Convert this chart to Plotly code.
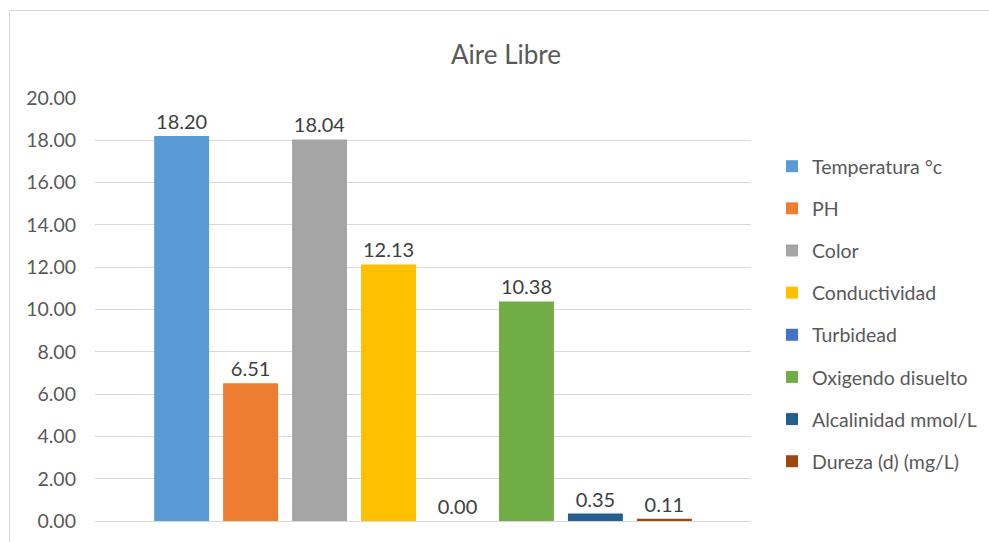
import plotly.graph_objects as go

categories = [""]
series_names = ["Temperatura °c", "PH", "Color", "Conductividad", "Turbidead",
                "Oxigendo disuelto", "Alcalinidad mmol/L", "Dureza (d) (mg/L)"]
series_values = [18.20, 6.51, 18.04, 12.13, 0.00, 10.38, 0.35, 0.11]
series_colors = ["#5B9BD5", "#ED7D31", "#A5A5A5", "#FFC000", "#4472C4",
                 "#70AD47", "#255E91", "#9E480E"]
y_ticks = [0, 2, 4, 6, 8, 10, 12, 14, 16, 18, 20]

FONT = "Lato"
W, H = 989, 542
L, R, T, B = 95, 238, 98, 21
pw, ph = W - L - R, H - T - B

fig = go.Figure()
for i, (name, val, col) in enumerate(zip(series_names, series_values, series_colors)):
    fig.add_trace(go.Bar(
        x=categories, y=[val], name=name, marker_color=col, marker_line_width=0,
        text=[f"{val:.2f}"], textposition="outside",
        textfont=dict(family=FONT, size=20, color="#404040"),
        cliponaxis=False, legendgroup=f"g{i}",
    ))

def px_x(p):
    return (p - L) / pw

def px_y(p):
    return (H - B - p) / ph

fig.update_layout(
    width=W, height=H,
    margin=dict(l=L, r=R, t=T, b=B, autoexpand=False),
    paper_bgcolor="white", plot_bgcolor="white",
    barmode="group", bargap=0.159, bargroupgap=0.203,
    font=dict(family=FONT, color="#595959"),
    title=dict(text="Aire Libre", x=506 / W, xref="container", xanchor="center",
               y=1 - 55 / H, yref="container", yanchor="middle",
               font=dict(family=FONT, size=26, color="#595959")),
    xaxis=dict(showticklabels=False, showgrid=False, showline=False, zeroline=False,
               ticks=""),
    yaxis=dict(range=[0, 20], tickvals=y_ticks, tickformat=".2f",
               showgrid=True, gridcolor="#D9D9D9", gridwidth=1,
               zeroline=True, zerolinecolor="#D9D9D9", zerolinewidth=1,
               showline=False, ticks="", ticklabelstandoff=18,
               tickfont=dict(family=FONT, size=19.5, color="#595959")),
    legend=dict(x=px_x(772), y=px_y(147), xanchor="left", yanchor="top",
                xref="paper", yref="paper",
                font=dict(family=FONT, size=19.5, color="#595959"),
                tracegroupgap=13.8, itemwidth=30, bgcolor="rgba(0,0,0,0)"),
    showlegend=True,
    shapes=[dict(type="rect", xref="paper", yref="paper",
                 x0=px_x(9.5), x1=px_x(1010), y0=px_y(570), y1=px_y(10.5),
                 line=dict(color="#D9D9D9", width=1), fillcolor="rgba(0,0,0,0)",
                 layer="below")],
)

fig.write_html("out.html")
